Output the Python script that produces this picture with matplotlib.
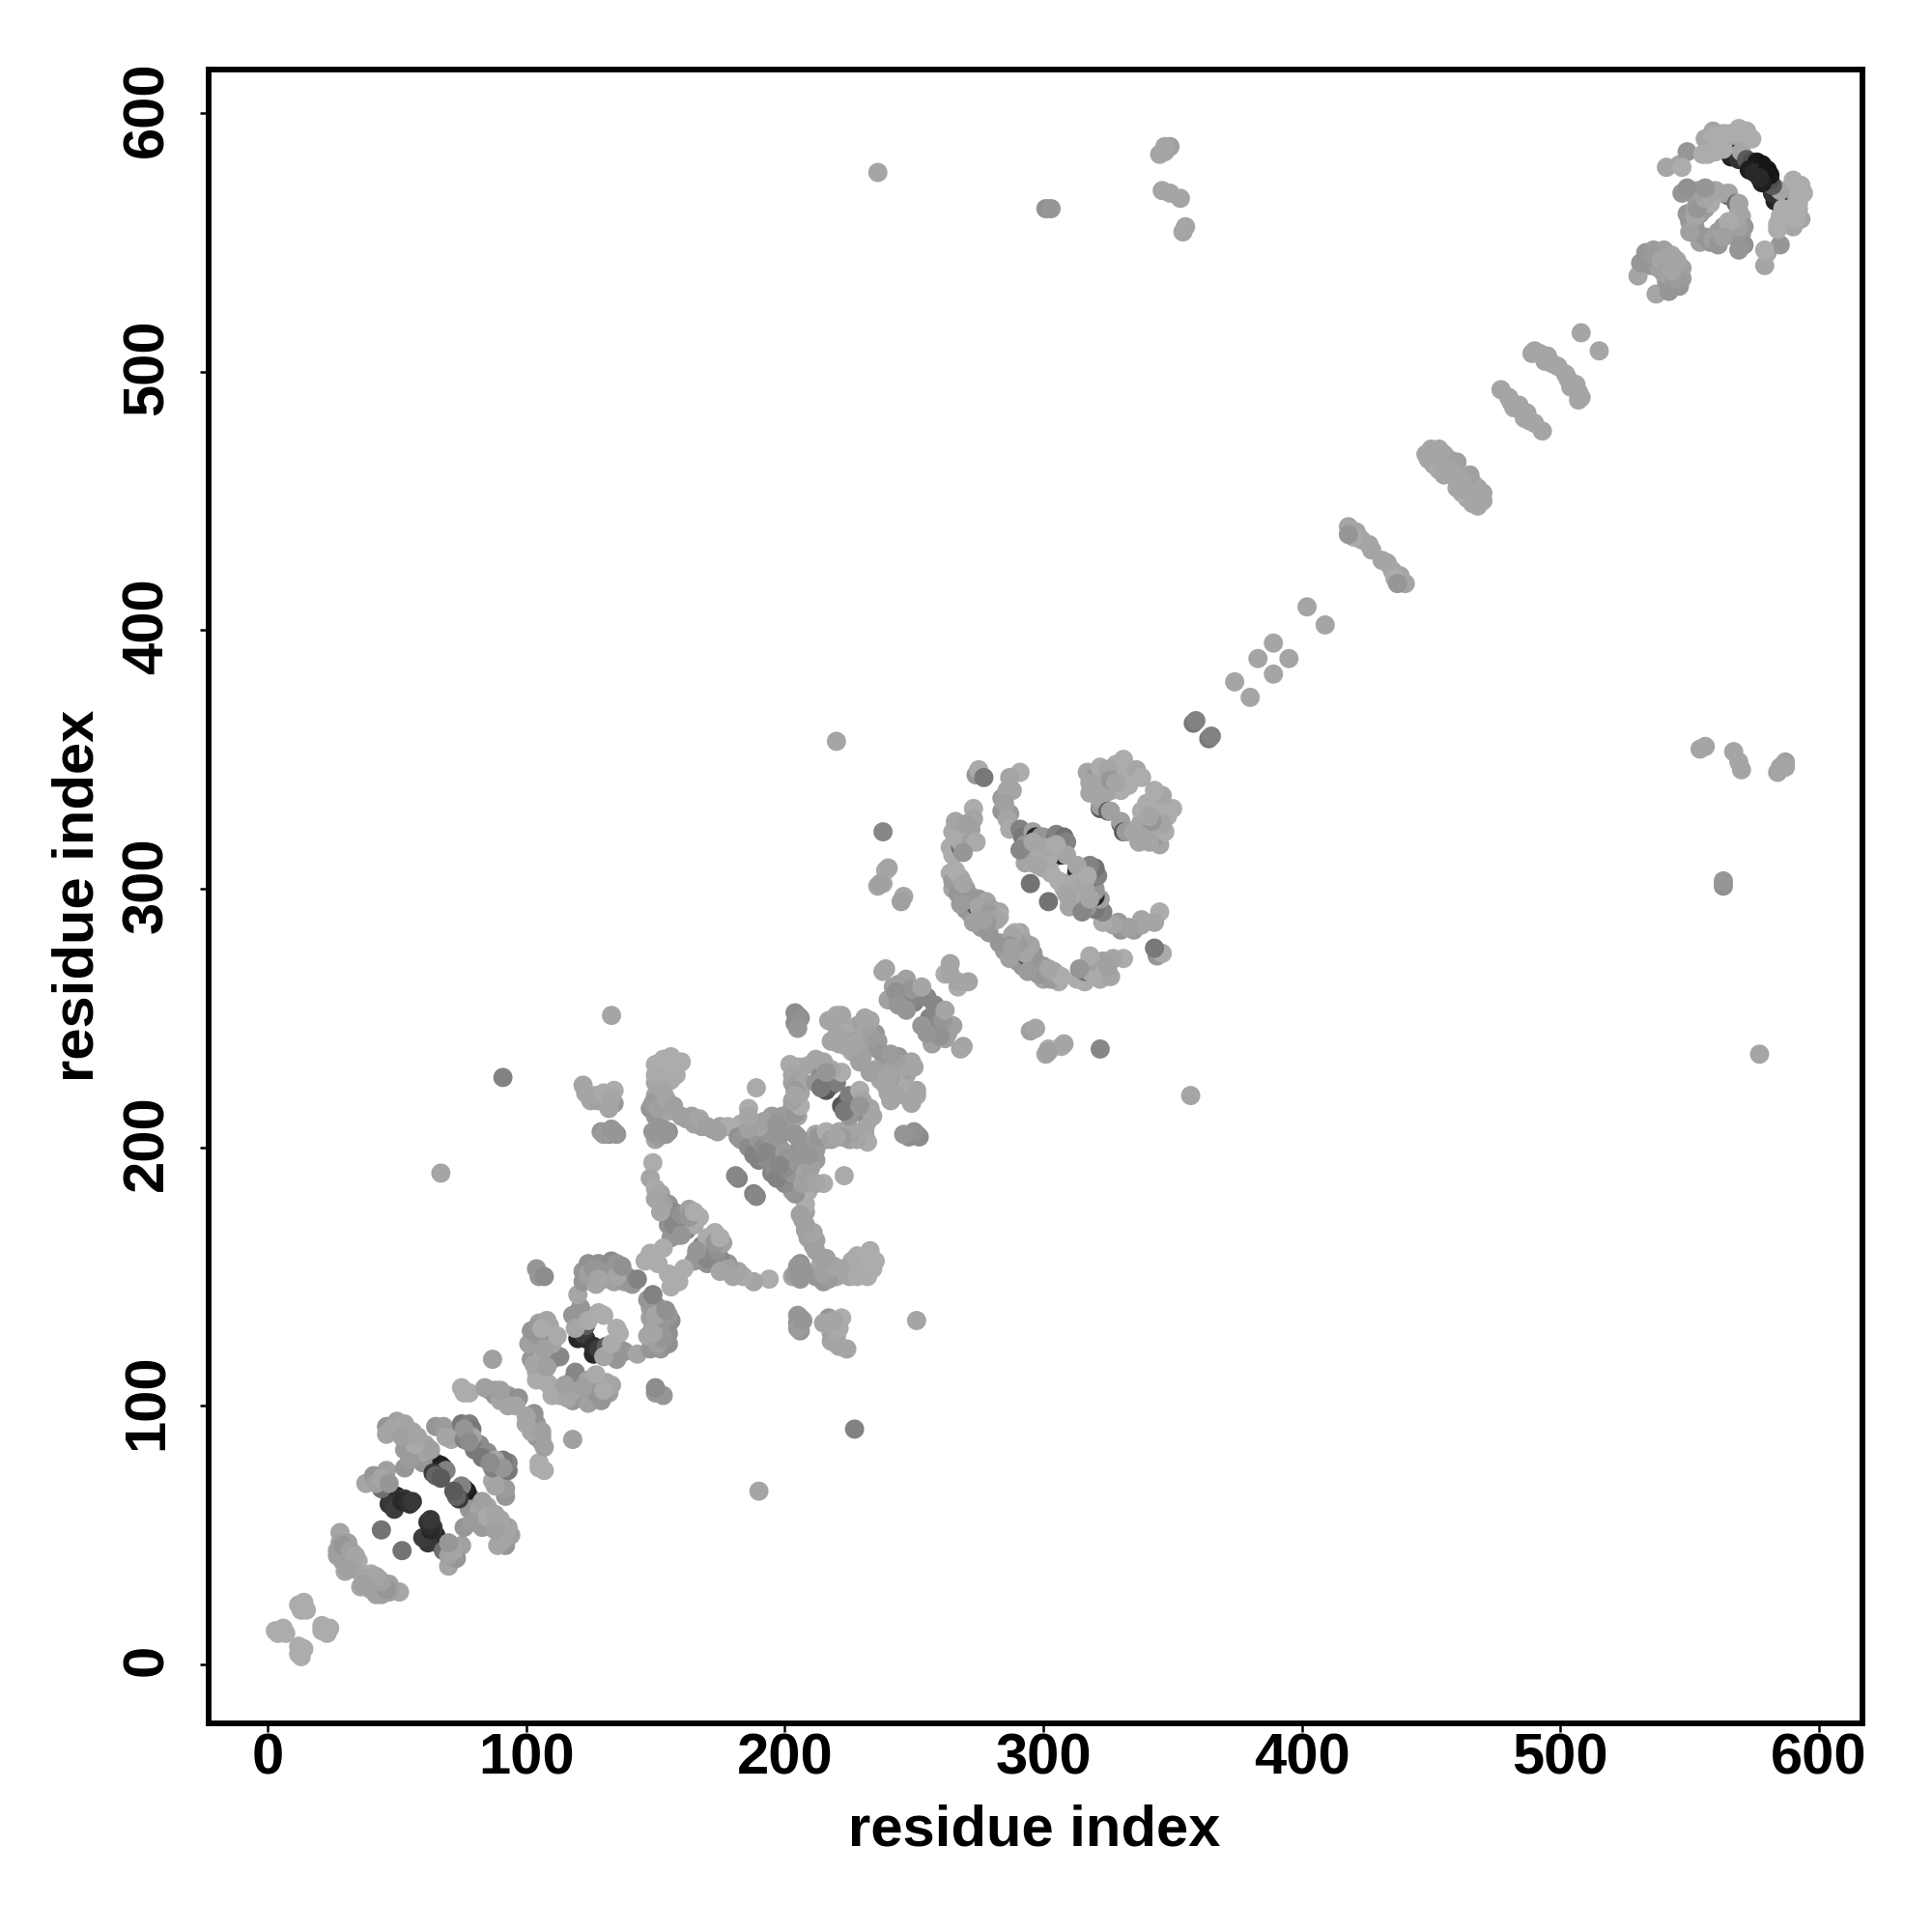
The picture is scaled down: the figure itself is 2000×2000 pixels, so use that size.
import matplotlib
matplotlib.use("Agg")
import matplotlib.pyplot as plt
from matplotlib.transforms import ScaledTranslation

# contacts (residue i, residue j, grey level 0-255); each one is drawn at (i,j) and (j,i)
c_start = [(12,23,172),(15,21,172),(13,21,172),(14,24,172),(3,13,172),(5,13,172),(7,12,172),(4,12,172),(6,14,172)]
c_30 = [(28,51,165),(28,47,160),(27,44,160),(30,45,155),(29,41,155),(31,42,160),(33,43,165),(35,40,170),
        (32,39,160),(29,40,155),(30,38,160),(33,37,165),(31,47,160),(28,43,155),(30,36,165),(27,42,160),
        (29,46,150),(32,44,160),(34,42,165),(31,37,160)]
c_a = [(38,70,165),(46,75,160),(41,73,150),(43,71,130),(45,69,120),(46,67,80),(48,66,45),(50,65,35),
       (51,64,45),(47,62,55),(49,60,60),(53,64,60),(55,62,50),(52,63,40),(44,68,110),(44,52,115),
       (42,70,160),(44,72,165),(47,70,150),(54,63,45),(56,63,55)]
c_b = [(61,85,165),(62,80,150),(63,78,130),(65,78,100),(66,75,40),(67,77,30),(68,76,35),(69,75,130),
       (60,78,150),(64,74,60),(65,73,100),(67,72,90),(60,82,165),(63,83,160)]
c_tl = [(46,92,150),(46,89,165),(50,94,160),(53,93,165),(54,91,160),(56,90,165),(55,85,150),(53,83,155),
        (53,76,150),(55,79,155),(57,85,170),(51,92,165),(48,91,165),(52,88,160),(58,88,165)]
c_c = [(65,92,150),(68,92,155),(70,90,155),(71,87,170),(69,88,165),(75,93,120),(78,93,130),(77,90,110),
       (79,91,120),(80,86,125),(82,85,140),(80,83,120),(79,88,165),(76,87,130),(76,91,150),(78,86,140)]
c_d0 = [(76,105,172),(78,105,172),(75,107,172),(86,106,160),(88,106,155),(91,104,155),(93,104,160),(95,103,150),
        (97,103,145),(93,100,165),(88,104,150),(90,102,165),(87,118,160),(84,107,160),(96,100,165),(90,106,160)]
c_d1 = [(105,132,160),(108,133,165),(104,130,155),(103,127,160),(106,125,165),(108,128,150),(103,122,155),
        (105,120,165),(102,118,150),(106,118,170),(110,118,150),(113,119,135),(104,113,170),(106,111,165),
        (104,110,170),(108,109,170),(101,124,160),(110,124,165),(102,129,150),(109,131,165),(112,127,170),
        (105,127,150),(107,122,160),(103,116,165),(108,115,160),(106,130,170)]
c_d2 = [(121,127,40),(120,126,40),(123,126,45),(122,128,60),(123,131,90),(122,136,140),(118,135,150),
        (121,138,150),(119,130,165),(124,133,170),(120,143,165),(130,135,172),(128,136,172)]
c_d3 = [(122,152,150),(124,155,145),(122,148,150),(125,150,155),(128,155,145),(131,153,150),(133,156,140),
        (135,155,150),(132,150,155),(134,148,160),(136,152,150),(138,148,155),(139,150,145),(141,147,150),
        (143,149,130),(127,147,165),(130,149,160),(104,153,150),(105,150,150),(107,150,140),
        (129,152,150),(124,151,160),(135,150,165),(137,154,145),(126,153,150),(128,149,165)]
c_e = [(149,194,172),(148,188,165),(150,184,170),(152,182,165),(155,178,150),(157,175,135),(155,170,145),
       (158,172,130),(160,170,140),(162,168,130),(158,167,145),(165,170,170),(167,173,172),(156,165,150),
       (148,159,172),(153,161,172),(151,155,172),(146,156,172),(159,166,150),(155,174,140),(157,170,135),
       (160,174,145),(163,176,160),(163,173,150),(153,178,160),(152,175,165),(160,166,150),(165,175,172),(150,180,165)]
c_f = [(150,232,172),(152,232,172),(155,232,172),(158,232,172),(158,228,172),(150,225,165),(150,220,165),
       (152,218,155),(148,215,150),(150,212,150),(155,214,165),(160,212,160),(122,224,165),(124,220,165),
       (125,218,165),(128,218,160),(132,220,170),(134,222,172),(134,217,150),(132,215,165),
       (129,206,150),(132,205,145),(134,206,150),(135,205,150),(150,205,150),(152,206,150),(155,206,145),(150,203,165),
       (154,228,172),(150,228,170),(156,226,170),(149,217,155),(153,222,165),(151,215,160),(154,219,165),(157,216,160),
       (123,221,165),(127,220,165),(130,221,170),(133,219,165),(130,205,155),(133,207,150),(151,204,155),(154,205,150),(153,207,150),(149,206,150),
       (153,234,172),(156,235,172),(160,233,172)]
c_g = [(162,211,160),(165,209,160),(168,208,160),(172,207,155),(175,208,160),(178,208,172),(183,209,172),
       (164,212,160),(167,211,165),(170,208,160),(174,206,160),
       (182,204,145),(185,202,140),(188,200,135),(190,198,130),(190,195,130),(192,196,140),(195,200,150),
       (198,200,155),(196,204,150),(200,206,145),(202,208,140),(205,212,165),(200,210,155),(204,205,150),
       (183,203,150),(186,200,140),(188,197,130),(190,203,150),(192,200,140),(194,205,150),(196,201,150),(198,207,150),
       (199,212,155),(195,212,155),(190,208,165),(186,207,160),(203,216,155),(204,213,150),(193,198,135),(192,210,160),(197,209,150),
       (206,216,172),(205,231,165),(207,231,165),(210,232,165),(213,232,165),(203,225,160),(205,222,150),
       (202,232,170),(203,228,165),(205,225,160),(207,225,165),(203,218,160),(206,221,165),(204,222,155),
       (186,215,172),(189,223,170),(186,212,165),(182,188,130),(181,189,135),(204,220,165)]
c_h = [(216,222,85),(218,224,90),(216,226,100),(214,228,140),(218,228,110),(220,225,125),(222,229,172),(212,225,150),
       (212,234,165),(215,233,165),(218,230,165),(214,223,120),(216,229,150),
       (204,252,140),(204,248,140),(205,251,140),(206,250,145),(220,251,170),(222,251,165),(219,248,165),
       (226,245,165),(228,247,165),(230,242,165),(232,240,160),(228,238,160),(234,240,165),(236,238,150),
       (224,244,170),(235,244,150),(230,235,160),(233,249,165),(205,246,150),(230,248,160),
       (225,240,165),(227,241,160),(231,245,165),(233,243,160),(226,237,165),(229,233,160),(236,241,155),
       (218,241,165),(221,240,165),(224,239,165),(227,240,165),(220,243,165),(217,249,165),(231,250,165)]
c_i = [(238,268,165),(245,262,150),(248,259,140),(250,256,130),(255,258,135),(242,262,160),(246,257,135),
       (244,263,160),(251,258,135),(247,265,160),(240,257,160),(249,261,150),(253,262,165),
       (262,267,172),(264,271,165),(264,267,165),(239,269,165),(243,260,145),(247,253,150),(244,255,150)]
c_lone = [(67,190,165),(220,357,165),(236,577,165),(91,227,130),(133,251,165),(295,245,160),(236,301,165),
          (239,307,172),(238,302,172),(238,322,135),(246,297,165),(237,302,160),
          (358,364,120),(359,365,130),(240,308,165),(301,563,145),(303,563,150)]
c_far = [(345,584,165),(347,585,165),(349,587,160),(347,587,165),(346,570,165),(349,569,165),(353,567,165),(354,554,165),(355,556,165)]
c_j = [(274,344,150),(275,346,170),(277,343,120),(291,345,172),(287,343,165),(284,335,155),(284,330,150),(287,329,155),
       (288,338,165),(286,338,165),(285,333,160),(286,327,165),
       (287,323,170),(291,323,130),(292,320,120),(296,322,160),(297,320,40),(299,320,150),(300,320,150),(305,320,30),(307,320,130),
       (305,321,130),(308,320,115),
       (309,318,130),(300,316,165),(297,312,170),(296,310,165),(300,308,170),(303,306,172),(304,312,170),(307,313,40),(309,313,165),
       (295,317,50),(297,316,165),(295,315,165),(298,315,170),(302,312,170),(298,309,165),(302,316,165),(305,317,170),(293,317,150),
       (293,310,165),(291,315,135),(296,318,165),(295,302,115),(273,331,172),(273,327,165),(272,323,160),(270,320,165),
       (265,322,170),(264,316,170),(265,313,172),(268,316,110),(268,318,170),(272,318,160),(274,318,170),(269,314,150),(266,326,165),(270,325,160)]
c_k = [(264,306,172),(267,305,165),(265,300,165),(270,300,150),(272,297,155),(275,296,150),(270,292,150),(272,290,150),
       (271,295,60),(273,296,150),(275,292,55),(277,293,150),(276,289,60),(278,291,160),
       (275,293,165),(278,295,165),(280,292,160),(283,291,165),(283,289,172),(276,285,155),(279,283,150),(273,287,160),
       (265,303,155),(268,304,165),(267,298,150),(279,290,155),(282,288,165),
       (268,294,155),(278,287,150),(277,288,160),(266,307,172),(269,302,165)]
c_m = [(317,345,165),(320,343,150),(325,344,160),(322,340,170),(326,338,165),(318,337,165),(328,348,172),(331,350,172),
       (333,345,172),(336,346,165),(338,343,172),(330,338,172),(322,331,90),(322,332,155),(330,325,100),(330,326,160),
       (322,347,172),(325,346,165),(320,340,165),(324,337,165),(318,341,165),(326,342,150),(333,340,172),(328,341,165),(322,335,165)]
c_n = [(374,380,165),(383,389,165),(389,395,165),(402,409,165),(418,440,165),(419,438,165),(421,438,165),(423,435,165),
       (426,433,165),(427,431,165),(420,436,170),(418,437,150),(450,470,165),(452,468,165),(448,468,165),(449,466,165),
       (451,464,165),(453,462,170),(455,468,165),(457,466,165),(460,465,160),(458,462,165),(455,460,165),(454,464,165),(453,470,165),
       (477,493,165),(481,488,165),(484,487,165),(490,508,165),(492,507,165),(494,504,165),(497,503,165),(499,502,165),(489,507,165),(508,515,165),
       (480,490,165),(482,486,165),(495,506,165)]
c_o = [(530,537,165),(533,546,150),(536,547,155),(540,547,160),(543,545,165),(531,542,150),(535,541,150),(538,540,160),
       (534,544,155),(537,543,160),(540,544,165),(533,544,150),(536,545,155),(539,543,165),
       (541,579,165),(546,580,165),(549,585,150),(547,579,172),
       (547,569,150),(552,568,150),(556,569,160),(559,568,165),(565,568,110),(562,569,165),(565,569,165),
       (550,558,150),(552,556,150),(554,561,155),(556,563,155),(558,565,170),(551,559,160),(549,561,150),(552,563,160),
       (554,550,160),(560,552,165),(563,553,150),(567,556,165),(570,553,160),(571,549,145),(570,560,165),(571,556,150)]
c_p = [(556,590,165),(559,593,165),(563,592,165),(567,590,160),(571,590,172),(555,584,172),(560,585,172),(562,587,165),
       (566,583,35),(567,584,40),(569,582,50),(570,585,165),(572,582,90),(574,581,80),(576,581,25),(578,580,22),
       (573,578,30),(575,577,40),
       (559,591,172),(557,584,172),(567,592,172),(565,592,172),(562,591,172),(569,594,172),(572,593,172),(574,590,172),(563,586,172)]

clusters = [c_start, c_30, c_a, c_b, c_tl, c_c, c_d0, c_d1, c_d2, c_d3, c_e, c_f, c_g, c_h, c_i, c_lone,
            c_far, c_j, c_k, c_m, c_n, c_o, c_p]

xticks = [0, 100, 200, 300, 400, 500, 600]
axis_label = "residue index"

plt.rcParams['font.family'] = ['Liberation Sans', 'DejaVu Sans']
plt.rcParams['font.weight'] = 'bold'

fig = plt.figure(figsize=(20, 20), dpi=100)
ax = fig.add_axes([216/2000, 1-1784/2000, 1712/2000, 1712/2000])

for cl in clusters:
    i = [c[0] for c in cl]
    j = [c[1] for c in cl]
    g = [(c[2]/255,)*3 for c in cl]
    ax.scatter(i + j, j + i, c=g + g, s=205, linewidths=0, clip_on=True, zorder=2)

ax.set_xlim(-22.8, 616.8)
ax.set_ylim(-22.8, 616.8)
ax.set_xticks(xticks)
ax.set_yticks(xticks)
ax.tick_params(axis='both', length=6.5, width=1.8, labelsize=43)
ax.tick_params(axis='x', pad=0)
ax.tick_params(axis='y', pad=19)
shift = ScaledTranslation(0, 3/72, fig.dpi_scale_trans)
for t in ax.get_yticklabels():
    t.set_rotation(90)
    t.set_va('center')
    t.set_transform(t.get_transform() + shift)
for s in ax.spines.values():
    s.set_linewidth(4.2)

fig.text(1071/2000, 1-1895/2000, axis_label, ha='center', va='center', fontsize=43, fontweight='bold')
fig.text(81/2000, 1-927/2000, axis_label, ha='center', va='center', rotation=90, fontsize=43, fontweight='bold')

fig.savefig("out.png", dpi=100, facecolor='white')
